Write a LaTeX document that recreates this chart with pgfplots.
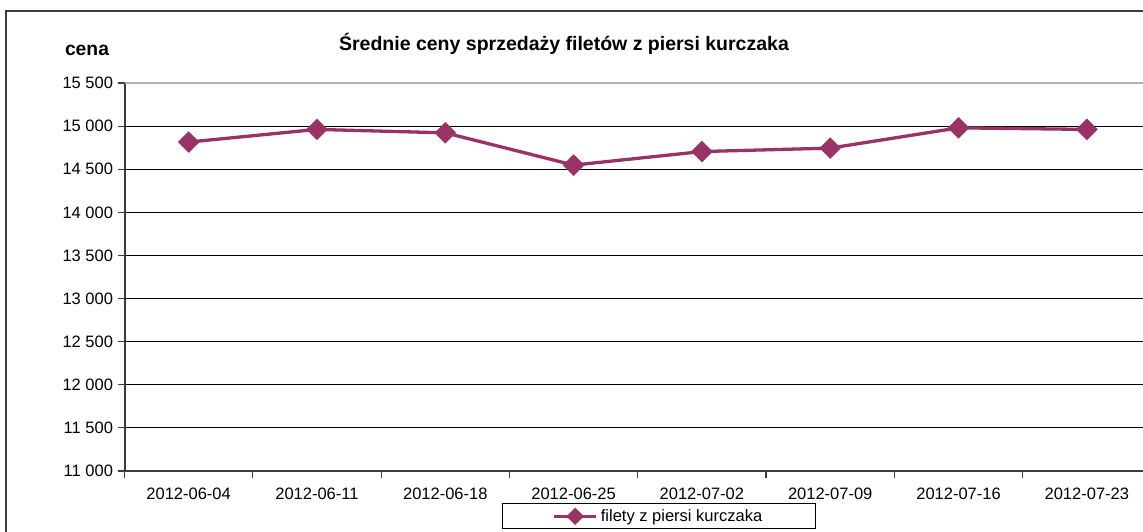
\documentclass[border=0pt]{standalone}
\usepackage{fontspec}
\setmainfont{Liberation Sans}
\usepackage{pgfplots}
\pgfplotsset{compat=1.18}
\definecolor{plum}{RGB}{153,51,102}
\definecolor{frame}{RGB}{60,60,60}
\begin{document}
\begin{tikzpicture}[x=1pt,y=-1pt]
\useasboundingbox (0,0) rectangle (1143,531);
\clip (0,0) rectangle (1143,531);
\fill[white] (0,0) rectangle (1143,531);
\draw[frame, line width=2pt] (6,560) -- (6,11) -- (1160,11);
\node[font=\fontsize{19.5}{22}\selectfont\bfseries] at (564,44) {Średnie ceny sprzedaży filetów z piersi kurczaka};
\node[font=\fontsize{19.3}{22}\selectfont\bfseries] at (87,50) {cena};
\begin{axis}[
  at={(124.5pt,-471pt)}, anchor=south west,
  scale only axis, width=1026.5pt, height=388pt,
  xmin=0.5, xmax=8.5, ymin=11000, ymax=15500,
  scaled y ticks=false,
  axis x line*=bottom, axis y line*=left,
  axis line style={-, draw=frame, line width=2pt},
  xtick={1,...,8},
  xticklabels={2012-06-04,2012-06-11,2012-06-18,2012-06-25,2012-07-02,2012-07-09,2012-07-16,2012-07-23},
  minor xtick={0.5,1.5,...,8.5},
  major x tick style={draw=none},
  minor x tick style={draw=frame, line width=1.2pt},
  ytick={11000,11500,...,15000},
  yticklabels={11 000,11 500,12 000,12 500,13 000,13 500,14 000,14 500,15 000},
  extra y ticks={15500}, extra y tick labels={15 500},
  extra y tick style={grid style={draw=gray!60, line width=1.5pt}},
  y tick style={draw=frame, line width=1.2pt},
  tick align=outside, major tick length=7pt, minor tick length=7pt,
  ymajorgrids, grid style={draw=black, line width=1.1pt},
  tick label style={font=\fontsize{16.5}{18}\selectfont},
  yticklabel style={xshift=-1pt},
  xticklabel style={yshift=-6pt},
  legend style={at={(axis description cs:0.3678,-0.0825)}, anchor=north west,
    draw=black, line width=1pt, inner xsep=50pt, inner ysep=4pt,
    font=\fontsize{16.5}{18}\selectfont, cells={anchor=west},
    nodes={inner xsep=3pt}},
  legend image code/.code={\draw[mark repeat=2,mark phase=2,#1,mark size=4.5pt] plot coordinates {(0pt,0pt)(21pt,0pt)(42pt,0pt)};},
]
\addplot[plum, line width=3.3pt, mark=square*, mark size=6pt, mark options={rotate=45, solid}]
  coordinates {(1,14815) (2,14962) (3,14922) (4,14548) (5,14705) (6,14745) (7,14980) (8,14962)};
\addlegendentry{filety z piersi kurczaka}
\end{axis}
\end{tikzpicture}
\end{document}
